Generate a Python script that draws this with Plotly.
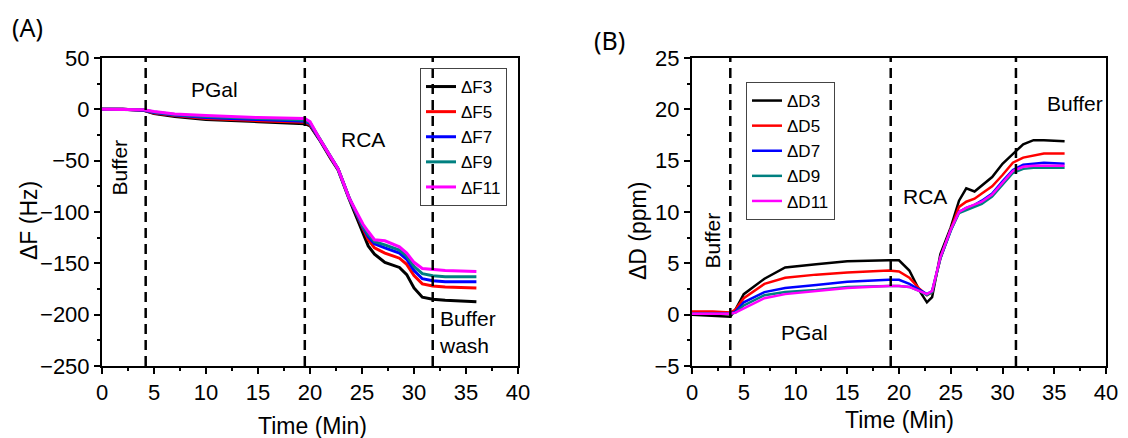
import plotly.graph_objects as go

# ---------------- Panel A data (ΔF, Hz) ----------------
tA = [0, 2, 4, 5, 7, 10, 15, 19.5, 20, 21, 22, 22.7, 23.75, 24.4, 25.1, 25.6, 26.2, 27.2, 28.6, 29.3, 30, 30.8, 31.8, 33, 36]
F3 = [0, 0, -1, -4, -7, -10, -12, -14, -16, -31, -48, -59, -87, -103, -119, -133, -141, -149, -154, -161, -174, -183, -185, -186, -187.5]
F5 = [0, 0, -1, -3.5, -6, -9, -11, -12.5, -15, -30, -47, -58, -86, -101, -116, -127, -135, -140, -145, -151, -162, -170, -172, -173, -174]
F7 = [0, 0, -1, -3, -5.5, -8, -10, -11.5, -14, -30, -47, -58, -86, -100, -115, -124, -131, -135, -140, -146, -157, -165, -167, -168, -168]
F9 = [0, 0, -0.5, -2.5, -5, -7, -9, -10.5, -13, -30, -46, -58, -86, -100, -114, -122, -129, -132, -137, -143, -153, -160, -162, -163, -163]
F11 = [0, 0, -0.5, -2, -4.5, -6, -8, -9, -12, -30, -46, -58, -86, -99, -112, -119, -127, -128, -134, -140, -149, -155, -156, -157, -158]
namesA = ["ΔF3", "ΔF5", "ΔF7", "ΔF9", "ΔF11"]
seriesA = [F3, F5, F7, F9, F11]

# ---------------- Panel B data (ΔD, ppm) ----------------
tB = [0, 2, 3.7, 4.2, 5, 7, 9, 12, 15, 19, 20, 21, 22, 22.7, 23.2, 24, 25, 25.8, 26.5, 27.3, 28, 29, 30, 31, 32, 33, 34, 36]
D3 = [0, -0.1, -0.2, 0.5, 2.0, 3.5, 4.6, 4.9, 5.2, 5.3, 5.3, 4.3, 2.3, 1.2, 1.7, 5.9, 8.5, 11.1, 12.3, 12.0, 12.6, 13.4, 14.7, 15.7, 16.6, 17.0, 17.0, 16.9]
D5 = [0.3, 0.3, 0.2, 0.5, 1.6, 3.0, 3.6, 3.9, 4.1, 4.3, 4.2, 3.6, 2.5, 1.9, 2.2, 5.5, 8.3, 10.5, 11.0, 11.3, 11.8, 12.5, 13.6, 14.8, 15.3, 15.5, 15.7, 15.7]
D7 = [0.1, 0.1, 0.1, 0.3, 1.2, 2.2, 2.6, 2.9, 3.2, 3.4, 3.4, 3.0, 2.4, 2.0, 2.3, 5.5, 8.2, 10.0, 10.4, 10.7, 11.1, 11.8, 13.0, 14.1, 14.6, 14.7, 14.8, 14.7]
D9 = [0.1, 0.1, 0.1, 0.2, 0.9, 1.9, 2.2, 2.4, 2.7, 2.8, 2.8, 2.7, 2.3, 1.9, 2.2, 5.5, 8.2, 9.9, 10.2, 10.5, 10.8, 11.5, 12.7, 13.8, 14.2, 14.3, 14.3, 14.3]
D11 = [0.1, 0.1, 0.1, 0.2, 0.6, 1.6, 2.0, 2.3, 2.6, 2.8, 2.8, 2.7, 2.3, 2.0, 2.3, 5.6, 8.3, 10.0, 10.4, 10.7, 11.0, 11.7, 12.9, 14.0, 14.4, 14.5, 14.5, 14.5]
namesB = ["ΔD3", "ΔD5", "ΔD7", "ΔD9", "ΔD11"]
seriesB = [D3, D5, D7, D9, D11]

colors = ["#000000", "#ff0000", "#0000ff", "#008080", "#ff00ff"]
dashA = [4.2, 19.5, 31.8]
dashB = [3.7, 19.2, 31.3]

FONT = "Liberation Sans, Arial, sans-serif"
W, H = 1120, 430  # page body has an 8px margin


def px(x):
    return x / W


def py(y):
    return 1 - y / H


fig = go.Figure()
for name, ys, c in zip(namesA, seriesA, colors):
    fig.add_trace(go.Scatter(x=tA, y=ys, name=name, mode="lines",
                             line=dict(color=c, width=3), xaxis="x", yaxis="y",
                             legend="legend"))
for name, ys, c in zip(namesB, seriesB, colors):
    fig.add_trace(go.Scatter(x=tB, y=ys, name=name, mode="lines",
                             line=dict(color=c, width=2.5), xaxis="x2", yaxis="y2",
                             legend="legend2"))

shapes = []
for xv in dashA:
    shapes.append(dict(type="line", xref="x", yref="y domain", x0=xv, x1=xv, y0=0, y1=1,
                       line=dict(color="black", width=2.5, dash="10px,6px"), layer="above"))
for xv in dashB:
    shapes.append(dict(type="line", xref="x2", yref="y2 domain", x0=xv, x1=xv, y0=0, y1=1,
                       line=dict(color="black", width=2.5, dash="10px,6px"), layer="above"))

axis_common = dict(showline=True, linecolor="black", linewidth=2, mirror=True,
                   ticks="outside", ticklen=6, tickwidth=1.5, tickcolor="black",
                   showgrid=False, zeroline=False, automargin=False,
                   tickfont=dict(family=FONT, size=22, color="black"))

ydom = [py(358), py(50)]
fig.update_layout(
    width=W, height=H,
    margin=dict(l=0, r=0, t=0, b=0),
    paper_bgcolor="white", plot_bgcolor="white",
    font=dict(family=FONT, size=21, color="black"),
    shapes=shapes,
    xaxis=dict(domain=[px(94), px(510)], range=[0, 40], dtick=5, anchor="y",
               minor=dict(ticks="outside", ticklen=3, dtick=2.5, tickcolor="black"),
               **axis_common),
    yaxis=dict(domain=ydom, range=[-250, 50], dtick=50, anchor="x",
               minor=dict(ticks="outside", ticklen=3, dtick=25, tickcolor="black"),
               **axis_common),
    xaxis2=dict(domain=[px(684), px(1098)], range=[0, 40], dtick=5, anchor="y2",
                minor=dict(ticks="outside", ticklen=3, dtick=2.5, tickcolor="black"),
                **axis_common),
    yaxis2=dict(domain=ydom, range=[-5, 25], dtick=5, anchor="x2",
                minor=dict(ticks="outside", ticklen=3, dtick=2.5, tickcolor="black"),
                **axis_common),
    legend=dict(x=px(412), y=py(60), xanchor="left", yanchor="top",
                bgcolor="rgba(255,255,255,0)", bordercolor="#444", borderwidth=1,
                font=dict(family=FONT, size=17), tracegroupgap=0, itemwidth=30),
    legend2=dict(x=px(738), y=py(74), xanchor="left", yanchor="top",
                 bgcolor="rgba(255,255,255,0)", bordercolor="#444", borderwidth=1,
                 font=dict(family=FONT, size=17), tracegroupgap=0, itemwidth=30),
    showlegend=True,
)

ann = []


def pa(text, x, y, angle=0, size=23, family=FONT):
    return dict(text=text, x=px(x), y=py(y), xref="paper", yref="paper",
                xanchor="center", yanchor="middle", textangle=angle,
                showarrow=False, font=dict(size=size, family=family))


# axis titles
ann.append(pa("Time (Min)", 304, 418))
ann.append(pa("Time (Min)", 891, 412))
ann.append(pa("ΔF (Hz)", 21, 213, angle=-90))
ann.append(pa("ΔD (ppm)", 630, 223, angle=-90))
# panel labels
ann.append(pa("(A)", 19, 19, size=25, family="Noto Sans, sans-serif"))
ann.append(pa("(B)", 601, 32, size=25, family="Noto Sans, sans-serif"))
# Panel A labels
ann.append(dict(text="Buffer", x=1.7, y=-57, xref="x", yref="y", textangle=-90, showarrow=False))
ann.append(dict(text="PGal", x=10.8, y=19, xref="x", yref="y", showarrow=False))
ann.append(dict(text="RCA", x=25.1, y=-29, xref="x", yref="y", showarrow=False))
ann.append(dict(text="Buffer<br>wash", x=32.2, y=-217, xref="x", yref="y", xanchor="left",
                align="left", showarrow=False))
# Panel B labels
ann.append(dict(text="Buffer", x=2.0, y=7.2, xref="x2", yref="y2", textangle=-90, showarrow=False))
ann.append(dict(text="PGal", x=10.9, y=-1.7, xref="x2", yref="y2", showarrow=False))
ann.append(dict(text="RCA", x=22.5, y=11.5, xref="x2", yref="y2", showarrow=False))
ann.append(dict(text="Buffer", x=37.0, y=20.6, xref="x2", yref="y2", showarrow=False))
fig.update_layout(annotations=ann)

fig.write_html("out.html")
